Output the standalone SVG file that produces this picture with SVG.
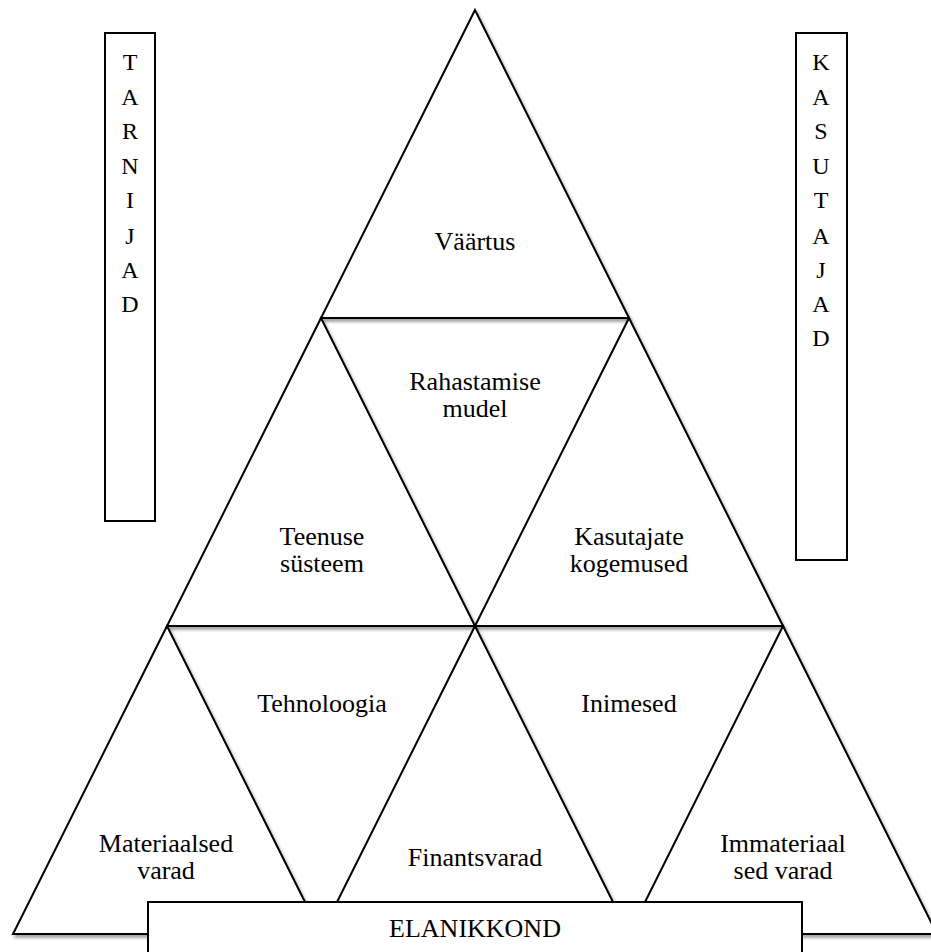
<svg xmlns="http://www.w3.org/2000/svg" width="931" height="952" viewBox="0 0 931 952">
<defs>
<filter id="sh" x="-10%" y="-10%" width="130%" height="130%">
<feDropShadow dx="2" dy="3" stdDeviation="1.5" flood-color="#000" flood-opacity="0.35"/>
</filter>
<style>
.tri{fill:#fff;stroke:#000;stroke-width:2;stroke-linejoin:miter;filter:url(#sh)}
.box{fill:#fff;stroke:#000;stroke-width:2}
text{font-family:"Liberation Serif","Times New Roman",serif;font-size:26px;fill:#000;text-anchor:middle}
.l{font-size:24px}
</style>
</defs>
<rect width="931" height="952" fill="#fff"/>
<g id="vaartus">
<polygon class="tri" points="475,10 321,318 629,318"/>
<text x="475" y="250">Väärtus</text>
</g>
<g id="teenuse-systeem">
<polygon class="tri" points="321,318 167,626 475,626"/>
<text x="322" y="545">Teenuse</text>
<text x="322" y="572">süsteem</text>
</g>
<g id="kasutajate-kogemused">
<polygon class="tri" points="629,318 475,626 783,626"/>
<text x="629" y="545">Kasutajate</text>
<text x="629" y="572">kogemused</text>
</g>
<g id="rahastamise-mudel">
<text x="475" y="390">Rahastamise</text>
<text x="475" y="417">mudel</text>
</g>
<g id="materiaalsed-varad">
<polygon class="tri" points="167,626 13,934 321,934"/>
<text x="166" y="852">Materiaalsed</text>
<text x="166" y="879">varad</text>
</g>
<g id="finantsvarad">
<polygon class="tri" points="475,626 321,934 629,934"/>
<text x="475" y="866">Finantsvarad</text>
</g>
<g id="immateriaalsed-varad">
<polygon class="tri" points="783,626 629,934 937,934"/>
<text x="783" y="852">Immateriaal</text>
<text x="783" y="879">sed varad</text>
</g>
<g id="tehnoloogia">
<text x="322" y="712">Tehnoloogia</text>
</g>
<g id="inimesed">
<text x="629" y="712">Inimesed</text>
</g>
<g id="elanikkond">
<rect class="box" x="148" y="902" width="654" height="70"/>
<text x="475" y="937">ELANIKKOND</text>
</g>
<g id="tarnijad">
<rect class="box" x="105" y="33" width="50" height="488"/>
<text class="l" x="130" y="70">T</text>
<text class="l" x="130" y="105">A</text>
<text class="l" x="130" y="139">R</text>
<text class="l" x="130" y="174">N</text>
<text class="l" x="130" y="208">I</text>
<text class="l" x="130" y="244">J</text>
<text class="l" x="130" y="278">A</text>
<text class="l" x="130" y="312">D</text>
</g>
<g id="kasutajad">
<rect class="box" x="796" y="33" width="51" height="527"/>
<text class="l" x="821" y="70">K</text>
<text class="l" x="821" y="105">A</text>
<text class="l" x="821" y="139">S</text>
<text class="l" x="821" y="174">U</text>
<text class="l" x="821" y="208">T</text>
<text class="l" x="821" y="244">A</text>
<text class="l" x="821" y="278">J</text>
<text class="l" x="821" y="312">A</text>
<text class="l" x="821" y="346">D</text>
</g>
<g id="connectors"></g>
</svg>
